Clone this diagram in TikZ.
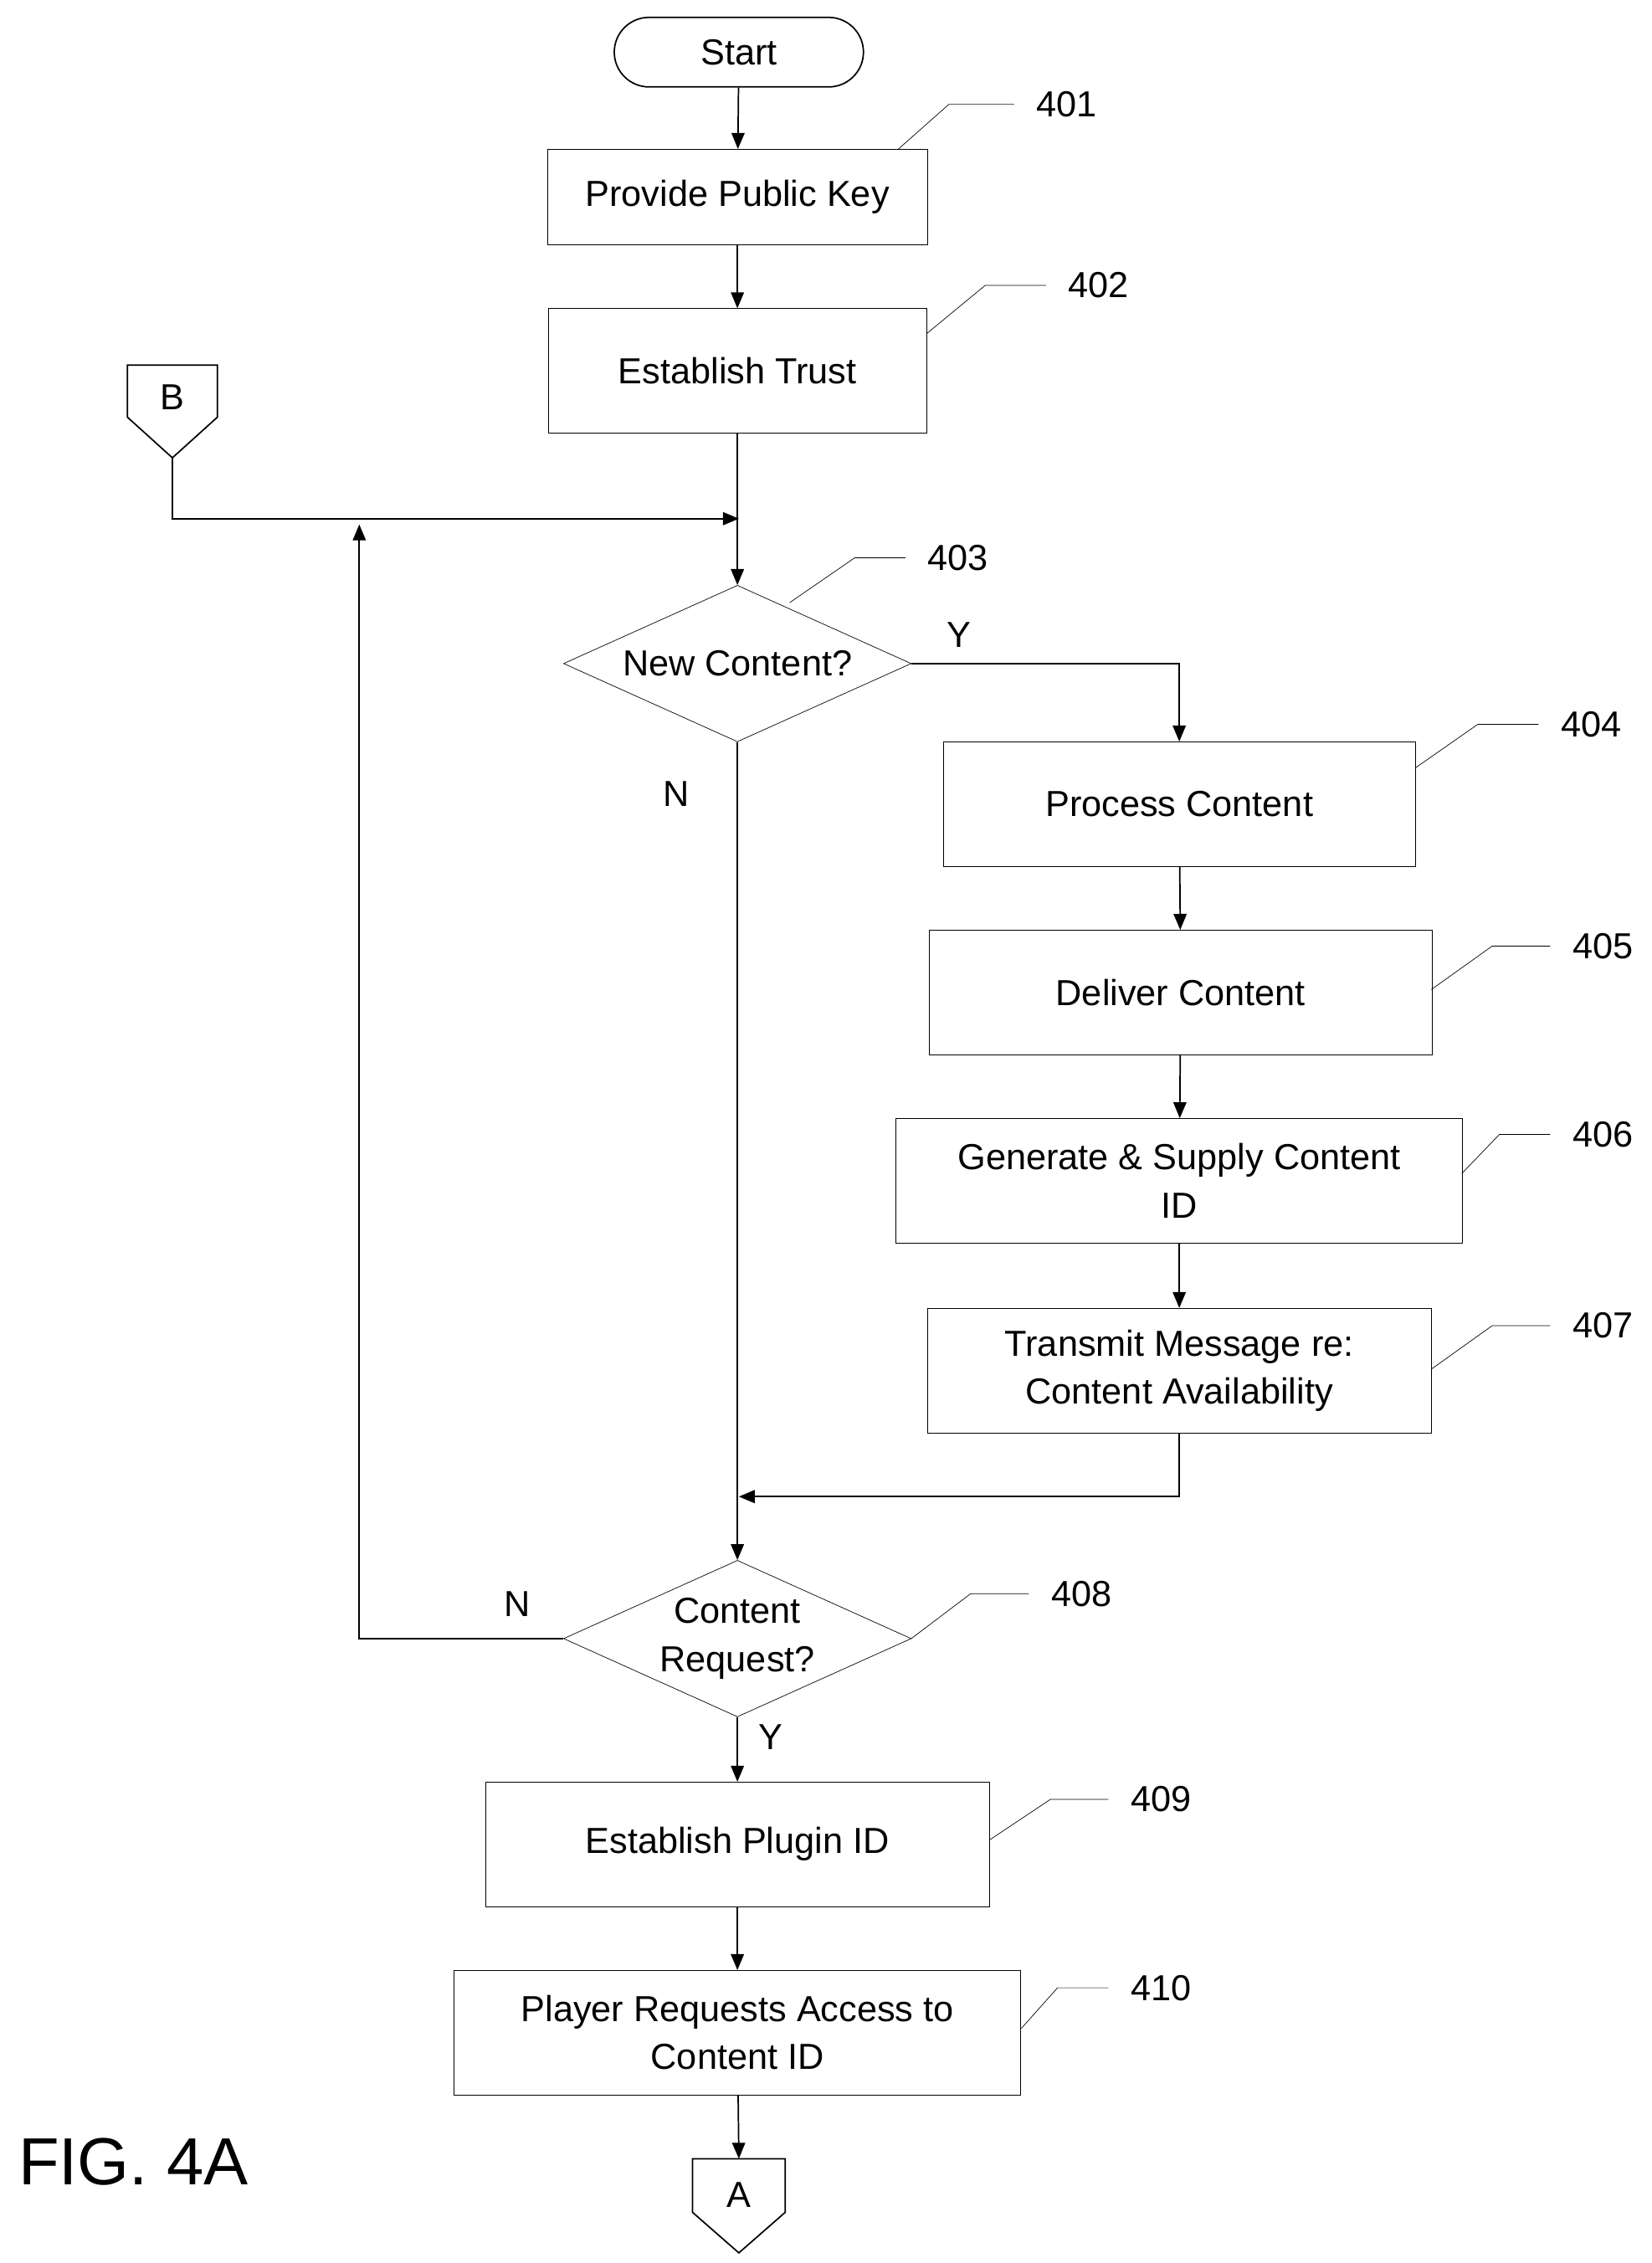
\documentclass[tikz,border=0pt]{standalone}
\usepackage{fontspec}
\setmainfont{Liberation Sans}
\usetikzlibrary{arrows.meta,shapes.geometric}
\tikzset{
  box/.style={draw,thin,minimum height=86pt,align=center,inner sep=2pt},
  dec/.style={draw,thin,diamond,aspect=2.22,minimum width=240pt,minimum height=108pt,inner sep=0pt,align=center},
  flow/.style={draw,-{Triangle[width=9pt,length=11pt]}},
  lead/.style={draw,thin},
}
\begin{document}
\begin{tikzpicture}[x=1pt,y=-1pt,font=\fontsize{25}{33}\selectfont,line width=1pt]
  \useasboundingbox (0,0) rectangle (1140,1562);
  \node (start) at (510,36) [draw,rounded corners=24pt,minimum width=172pt,minimum height=48pt] {Start};
  \node (b401) at (509,136) [box,minimum width=262pt,minimum height=66pt] {Provide Public Key};
  \node (b402) at (509,256) [box,minimum width=261pt] {Establish Trust};
  \node (d403) at (509,458) [dec] {New Content?};
  \node (b404) at (814,555) [box,minimum width=326pt] {Process Content};
  \node (b405) at (815,685) [box,minimum width=347pt] {Deliver Content};
  \node (b406) at (814,815) [box,minimum width=391pt] {Generate \& Supply Content\\ID};
  \node (b407) at (814,946) [box,minimum width=348pt] {Transmit Message re:\\Content Availability};
  \node (d408) at (509,1131) [dec] {Content\\Request?};
  \node (b409) at (509,1273) [box,minimum width=348pt] {Establish Plugin ID};
  \node (b410) at (509,1403) [box,minimum width=391pt] {Player Requests Access to\\Content ID};
  % off-page connectors
  \draw (88,252) -- (150,252) -- (150,288) -- (119,316) -- (88,288) -- cycle;
  \node (conB) at (119,274) {B};
  \coordinate (Bout) at (119,316);
  \draw (478,1490) -- (542,1490) -- (542,1527) -- (510,1555) -- (478,1527) -- cycle;
  \node (conA) at (510,1515) {A};
  \coordinate (Ain) at (510,1490);
  \coordinate (join1) at (510,358);
  \coordinate (join2) at (510,1033);
  \node (fig) at (92,1492) [font=\fontsize{46}{50}\selectfont] {FIG. 4A};
  % flow
  \draw[flow] (start) -- (b401);
  \draw[flow] (b401) -- (b402);
  \draw[flow] (b402) -- (d403);
  \draw[flow] (Bout) |- (join1);
  \draw[flow] (d403.east) -| (b404.north);
  \draw[flow] (b404) -- (b405);
  \draw[flow] (b405) -- (b406);
  \draw[flow] (b406) -- (b407);
  \draw[flow] (b407.south) |- (join2);
  \draw[flow] (d403.south) -- (d408.north);
  \draw[flow] (d408.west) -| (248,362);
  \draw[flow] (d408) -- (b409);
  \draw[flow] (b409) -- (b410);
  \draw[flow] (b410) -- (Ain);
  \node at (662,438) {Y};
  \node at (467,548) {N};
  \node at (357,1107) {N};
  \node at (532,1199) {Y};
  % reference numerals
  \draw[lead] (620,103) -- (655,72) -- (700,72) node[right=12pt] {401};
  \draw[lead] (640,230) -- (680,197) -- (722,197) node[right=12pt] {402};
  \draw[lead] (545,416) -- (590,385) -- (625,385) node[right=12pt] {403};
  \draw[lead] (977,530) -- (1020,500) -- (1062,500) node[right=12pt] {404};
  \draw[lead] (988,683) -- (1030,653) -- (1070,653) node[right=12pt] {405};
  \draw[lead] (1009,810) -- (1035,783) -- (1070,783) node[right=12pt] {406};
  \draw[lead] (988,945) -- (1030,915) -- (1070,915) node[right=12pt] {407};
  \draw[lead] (629,1131) -- (670,1100) -- (710,1100) node[right=12pt] {408};
  \draw[lead] (683,1270) -- (725,1242) -- (765,1242) node[right=12pt] {409};
  \draw[lead] (705,1400) -- (730,1372) -- (765,1372) node[right=12pt] {410};
\end{tikzpicture}
\end{document}
